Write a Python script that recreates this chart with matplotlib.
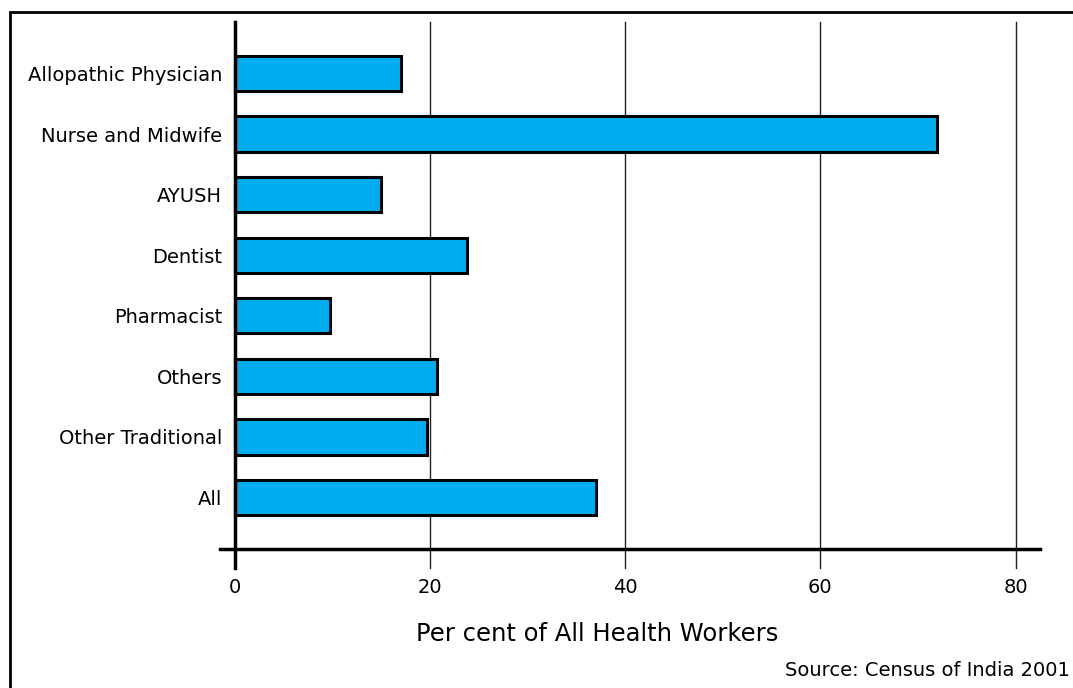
import matplotlib
matplotlib.use("Agg")
import matplotlib.pyplot as plt
from matplotlib.patches import Rectangle
from matplotlib.lines import Line2D

categories = ["Allopathic Physician", "Nurse and Midwife", "AYUSH", "Dentist",
              "Pharmacist", "Others", "Other Traditional", "All"]
values = [17.0, 72.0, 15.0, 23.8, 9.8, 20.7, 19.7, 37.0]
xticks = [0, 20, 40, 60, 80]
xlabel = "Per cent of All Health Workers"
source = "Source: Census of India 2001"

W, H = 1073, 688
fig = plt.figure(figsize=(W / 100, H / 100), dpi=100)
fig.patch.set_facecolor("white")

# outer frame
fig.add_artist(Rectangle((10 / W, 1 - 700 / H), 1080 / W, (700 - 12) / H,
                         transform=fig.transFigure, fill=False,
                         edgecolor="black", linewidth=2))

left, right = 220 / W, 1040 / W
bottom, top = 1 - 549 / H, 1 - 22 / H
ax = fig.add_axes([left, bottom, right - left, top - bottom])

ypos = list(range(len(categories)))
ax.barh(ypos, values, height=0.58, color="#00AEEF", edgecolor="black",
        linewidth=2.2, zorder=3)

ax.set_xlim(-1.5, 82.5)
ax.set_ylim(len(categories) - 1 + 0.85, -0.85)

for s in ["top", "right", "left"]:
    ax.spines[s].set_visible(False)
ax.spines["bottom"].set_linewidth(2.5)
ax.spines["bottom"].set_zorder(4)

# grid lines and axis line extended below axis
ext = 19 / (549 - 22)
for t in xticks:
    lw, col = (2.5, "black") if t == 0 else (1.0, "#222222")
    ax.add_line(Line2D([t, t], [-ext, 1], transform=ax.get_xaxis_transform(),
                       color=col, linewidth=lw, clip_on=False, zorder=2 if t else 5))

ax.set_xticks(xticks)
ax.set_xticklabels([str(t) for t in xticks], fontsize=14)
ax.tick_params(axis="x", length=0, pad=21)
ax.set_yticks(ypos)
ax.set_yticklabels(categories, fontsize=14)
ax.tick_params(axis="y", length=0, pad=-1.5)

fig.text(597 / W, 1 - 634 / H, xlabel, ha="center", va="center", fontsize=17.5)
fig.text(1070 / W, 1 - 671 / H, source, ha="right", va="center", fontsize=14)

fig.savefig("out.png", dpi=100)
